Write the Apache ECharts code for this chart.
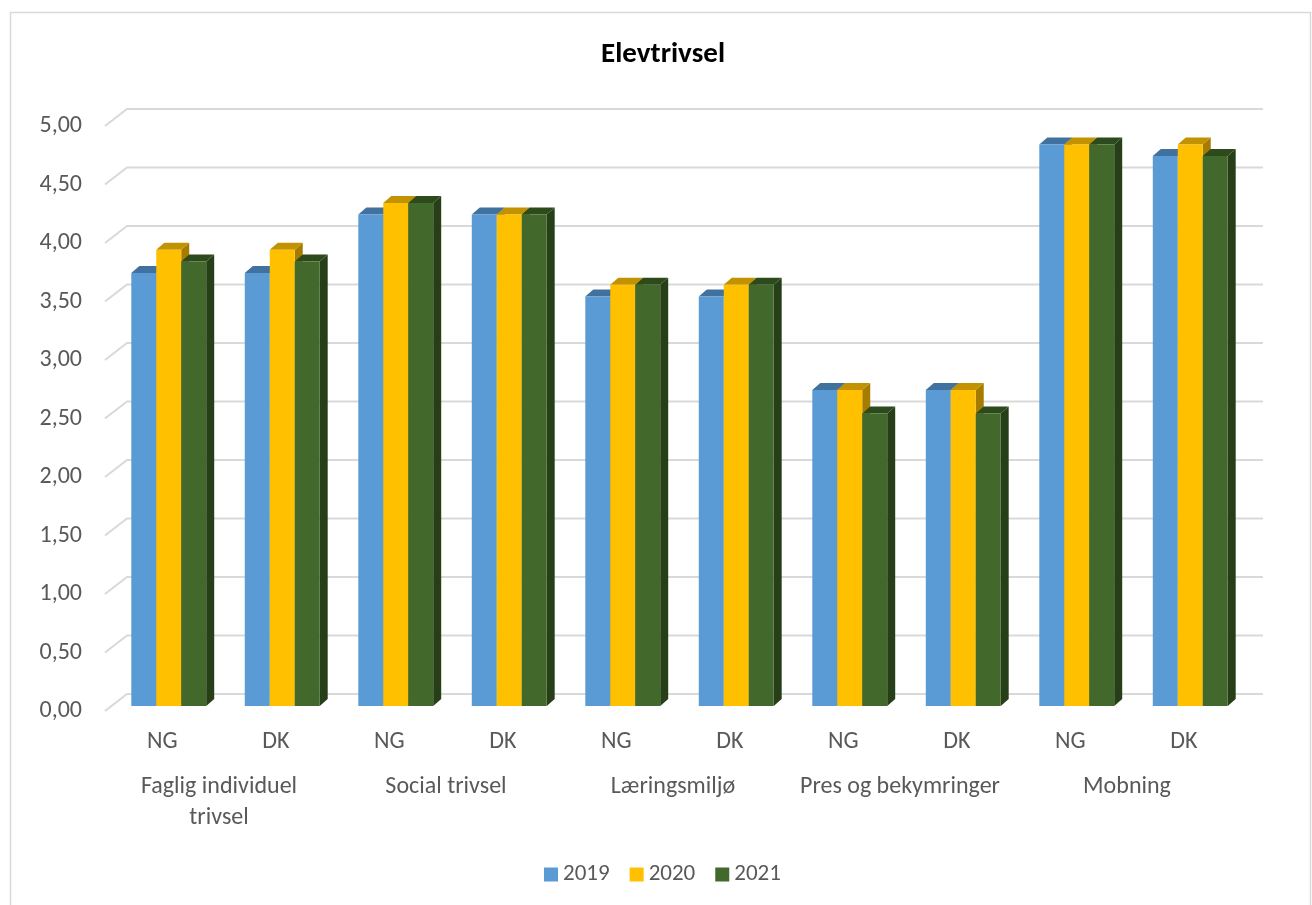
<!DOCTYPE html>
<html>
<head>
<meta charset="utf-8">
<script src="https://cdn.jsdelivr.net/npm/echarts@6/dist/echarts.min.js"></script>
<style>
html,body{margin:0;padding:0;background:#fff;}
#main{width:1312px;height:905px;}
</style>
</head>
<body>
<div id="main"></div>
<script>
const FONT = 'Carlito, Calibri, Lato, sans-serif';
const subCategories = ['NG','DK','NG','DK','NG','DK','NG','DK','NG','DK'];
const groupCategories = ['Faglig individuel\ntrivsel','Social trivsel','Læringsmiljø','Pres og bekymringer','Mobning'];
const years = ['2019','2020','2021'];
const values2019 = [3.7, 3.7, 4.2, 4.2, 3.5, 3.5, 2.7, 2.7, 4.8, 4.7];
const values2020 = [3.9, 3.9, 4.3, 4.2, 3.6, 3.6, 2.7, 2.7, 4.8, 4.8];
const values2021 = [3.8, 3.8, 4.3, 4.2, 3.6, 3.6, 2.5, 2.5, 4.8, 4.7];
const yTicks = [0, 0.5, 1, 1.5, 2, 2.5, 3, 3.5, 4, 4.5, 5];
const yTickLabels = ['0,00','0,50','1,00','1,50','2,00','2,50','3,00','3,50','4,00','4,50','5,00'];

const seriesValues = [values2019, values2020, values2021];
const frontColors = ['#5B9BD5', '#FFC000', '#43682B'];
const topColors = ['#41729F', '#C29200', '#2C4A1C'];
const sideColors = ['#3D6A94', '#A67C00', '#273F18'];
const DX = 8, DY = 7;

const chart = echarts.init(document.getElementById('main'), null, {renderer: 'canvas'});

function barRenderer(s) {
  return function (params, api) {
    const cat = api.value(0), val = api.value(1);
    const base = api.coord([cat, 0]);
    const top = api.coord([cat, val]);
    const band = api.size([1, 0])[0];
    const bw = band * 0.22;
    const x0 = base[0] - 1.5 * bw + s * bw;
    const yt = top[1], yb = base[1];
    return {
      type: 'group',
      children: [
        {type: 'polygon', shape: {points: [[x0 + bw, yt], [x0 + bw + DX, yt - DY], [x0 + bw + DX, yb - DY], [x0 + bw, yb]]},
          style: {fill: sideColors[s]}},
        {type: 'polygon', shape: {points: [[x0, yt], [x0 + bw, yt], [x0 + bw + DX, yt - DY], [x0 + DX, yt - DY]]},
          style: {fill: topColors[s]}},
        {type: 'rect', shape: {x: x0, y: yt, width: bw, height: yb - yt},
          style: {fill: frontColors[s]}}
      ]
    };
  };
}

const series = [{
  type: 'custom',
  name: 'grid',
  coordinateSystem: 'cartesian2d',
  xAxisIndex: 0, yAxisIndex: 0,
  silent: true,
  z: 1,
  data: yTicks.map((v, i) => [0, v, i]),
  renderItem: function (params, api) {
    const y = api.coord([0, api.value(1)])[1];
    const cs = params.coordSys;
    return {
      type: 'group',
      children: [{
        type: 'polyline',
        shape: {points: [[cs.x - 7, y + 5], [cs.x + 15, y - 12], [cs.x + cs.width + 16, y - 12]]},
        style: {stroke: '#D9D9D9', lineWidth: 2, fill: null}
      }, {
        type: 'text',
        style: {text: yTickLabels[api.value(2)], x: cs.x - 30, y: y + 5, align: 'right', verticalAlign: 'middle',
          fill: '#595959', font: '24px ' + FONT}
      }]
    };
  }
}];
years.forEach((yr, s) => {
  series.push({
    type: 'custom',
    name: yr,
    coordinateSystem: 'cartesian2d',
    xAxisIndex: 0, yAxisIndex: 0,
    z: 3 + s,
    itemStyle: {color: frontColors[s]},
    data: seriesValues[s].map((v, i) => [i, v]),
    encode: {x: 0, y: 1},
    renderItem: barRenderer(s)
  });
});

chart.setOption({
  animation: false,
  backgroundColor: '#fff',
  graphic: [{
    type: 'rect', shape: {x: 10.5, y: 12.5, width: 1300, height: 900},
    style: {fill: null, stroke: '#D9D9D9', lineWidth: 1.5}, silent: true, z: -1
  }],
  title: {
    text: 'Elevtrivsel', left: 658, textAlign: 'center', top: 35,
    textStyle: {fontFamily: FONT, fontSize: 29, fontWeight: 'bold', color: '#000'}
  },
  legend: {
    data: years, bottom: 19, left: 544, padding: 0,
    icon: 'rect', itemWidth: 14, itemHeight: 14, itemGap: 20,
    textStyle: {fontFamily: FONT, fontSize: 23, color: '#595959'}
  },
  grid: [
    {left: 112, right: 65, top: 121, bottom: 199},
    {left: 105.5, right: 71.5, top: 121, bottom: 199}
  ],
  xAxis: [{
    type: 'category', data: subCategories, gridIndex: 0,
    axisLine: {show: false}, axisTick: {show: false}, axisLabel: {show: false}
  }, {
    type: 'category', data: subCategories, gridIndex: 1,
    axisLine: {show: false}, axisTick: {show: false},
    axisLabel: {fontFamily: FONT, fontSize: 24, color: '#595959', margin: 24, interval: 0}
  }, {
    type: 'category', data: groupCategories, gridIndex: 1, position: 'bottom',
    axisLine: {show: false}, axisTick: {show: false},
    axisLabel: {fontFamily: FONT, fontSize: 24, color: '#595959', margin: 65, interval: 0, lineHeight: 31}
  }],
  yAxis: [{
    type: 'value', min: 0, max: 5, interval: 0.5, gridIndex: 0,
    axisLine: {show: false}, axisTick: {show: false}, splitLine: {show: false},
    axisLabel: {show: false}
  }, {
    type: 'value', min: 0, max: 5, interval: 0.5, gridIndex: 1,
    axisLine: {show: false}, axisTick: {show: false}, splitLine: {show: false},
    axisLabel: {show: false}
  }],
  series: series
});
</script>
</body>
</html>
